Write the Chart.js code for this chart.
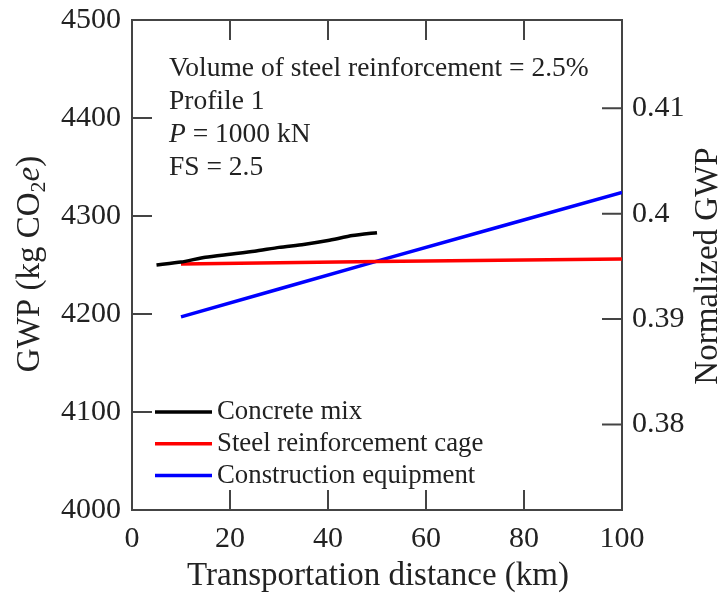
<!DOCTYPE html>
<html>
<head>
<meta charset="utf-8">
<script src="https://cdn.jsdelivr.net/npm/chart.js@4.4.1/dist/chart.umd.min.js"></script>
<style>
  html, body { margin: 0; padding: 0; background: #ffffff; }
  #wrap { width: 723px; height: 597px; position: relative; }
</style>
</head>
<body>
<div id="wrap"><canvas id="c"></canvas></div>
<script>
// Transportation distance (km) and GWP (kg CO2e) for each contribution
const concreteDistance = [5, 10, 15, 20, 25, 30, 35, 40, 45, 50];
const concreteGwp      = [4250, 4253, 4258, 4261, 4264, 4268, 4271, 4275, 4280, 4283];
const steelDistance    = [10, 50, 100];
const steelGwp         = [4251, 4253.5, 4256];
const equipmentDistance = [10, 50, 100];
const equipmentGwp      = [4197, 4254, 4324];

const seriesNames  = ['Concrete mix', 'Steel reinforcement cage', 'Construction equipment'];
const seriesColors = ['#000000', '#ff0000', '#0000ff'];

const distanceTicks   = [0, 20, 40, 60, 80, 100];
const gwpTicks        = [4000, 4100, 4200, 4300, 4400, 4500];
const normalizedTicks = [0.38, 0.39, 0.40, 0.41];
const normalizationBase = 10756; // GWP (kg CO2e) corresponding to a normalized GWP of 1

const noteLines = [
  [{ t: 'Volume of steel reinforcement = 2.5%' }],
  [{ t: 'Profile 1' }],
  [{ t: 'P', italic: true }, { t: ' = 1000 kN' }],
  [{ t: 'FS = 2.5' }]
];

const SERIF = "'Liberation Serif', 'Times New Roman', serif";
const FRAME = '#444444';
const INK = '#222222';

function pts(xs, ys) { return xs.map((x, i) => ({ x: x, y: ys[i] })); }

function fontStr(size, italic) { return (italic ? 'italic ' : '') + size + 'px ' + SERIF; }

// fixed box size for a scale, without extra label overhang padding
function fixBox(w, h) {
  return s => {
    if (w !== null) s.width = w;
    if (h !== null) s.height = h;
    s.paddingTop = 0; s.paddingBottom = 0; s.paddingLeft = 0; s.paddingRight = 0;
  };
}

// draw a run of text segments (plain / italic / subscript) centred on (0,0)
function drawRuns(ctx, runs, size) {
  const widths = runs.map(r => {
    ctx.font = fontStr(r.sub ? Math.round(size * 0.68) : size, r.italic);
    return ctx.measureText(r.t).width;
  });
  const total = widths.reduce((a, b) => a + b, 0);
  let x = -total / 2;
  runs.forEach((r, i) => {
    ctx.font = fontStr(r.sub ? Math.round(size * 0.68) : size, r.italic);
    ctx.fillText(r.t, x, r.sub ? size * 0.28 : 0);
    x += widths[i];
  });
}

const decorations = {
  id: 'decorations',
  afterDatasetsDraw(chart) {
    const ctx = chart.ctx;
    const sx = chart.scales.x, sy = chart.scales.y, sy2 = chart.scales.y2;
    const area = chart.chartArea;
    const tick = 20;

    ctx.save();
    // inward tick marks on all four sides
    ctx.strokeStyle = FRAME;
    ctx.lineWidth = 2;
    ctx.beginPath();
    distanceTicks.slice(1, -1).forEach(v => {
      const px = sx.getPixelForValue(v);
      ctx.moveTo(px, area.bottom); ctx.lineTo(px, area.bottom - tick);
      ctx.moveTo(px, area.top); ctx.lineTo(px, area.top + tick);
    });
    gwpTicks.slice(1, -1).forEach(v => {
      const py = sy.getPixelForValue(v);
      ctx.moveTo(area.left, py); ctx.lineTo(area.left + tick, py);
    });
    normalizedTicks.forEach(v => {
      const py = sy2.getPixelForValue(v);
      ctx.moveTo(area.right, py); ctx.lineTo(area.right - tick, py);
    });
    ctx.stroke();

    ctx.fillStyle = INK;
    ctx.textBaseline = 'middle';
    ctx.textAlign = 'left';

    // annotation block
    noteLines.forEach((line, i) => {
      let x = 169;
      const y = 69 + i * 33;
      line.forEach(r => {
        ctx.font = fontStr(27.5, r.italic);
        ctx.fillText(r.t, x, y);
        x += ctx.measureText(r.t).width;
      });
    });

    // legend
    chart.data.datasets.forEach((ds, i) => {
      const y = 412 + i * 31.8;
      ctx.strokeStyle = ds.borderColor;
      ctx.lineWidth = 3.5;
      ctx.beginPath();
      ctx.moveTo(155, y); ctx.lineTo(212, y);
      ctx.stroke();
      ctx.font = fontStr(26.8, false);
      ctx.fillText(ds.label, 217, y);
    });

    // axis titles
    ctx.save();
    ctx.translate(378, 576);
    drawRuns(ctx, [{ t: 'Transportation distance (km)' }], 33);
    ctx.restore();

    ctx.save();
    ctx.translate(30, 264);
    ctx.rotate(-Math.PI / 2);
    drawRuns(ctx, [{ t: 'GWP (kg CO' }, { t: '2', sub: true }, { t: 'e', italic: true }, { t: ')' }], 33);
    ctx.restore();

    ctx.save();
    ctx.translate(708, 266);
    ctx.rotate(-Math.PI / 2);
    drawRuns(ctx, [{ t: 'Normalized GWP' }], 33);
    ctx.restore();

    ctx.restore();
  }
};

const tickFont = { family: SERIF, size: 30 };

new Chart(document.getElementById('c'), {
  type: 'line',
  data: {
    datasets: [
      { label: seriesNames[0], data: pts(concreteDistance, concreteGwp), borderColor: seriesColors[0] },
      { label: seriesNames[1], data: pts(steelDistance, steelGwp), borderColor: seriesColors[1] },
      { label: seriesNames[2], data: pts(equipmentDistance, equipmentGwp), borderColor: seriesColors[2] }
    ].map(d => Object.assign(d, { borderWidth: 3.5, pointRadius: 0, tension: 0.2, fill: false, xAxisID: 'x', yAxisID: 'y' }))
  },
  options: {
    responsive: true,
    maintainAspectRatio: false,
    animation: false,
    events: [],
    layout: { padding: 0 },
    plugins: { legend: { display: false }, tooltip: { enabled: false } },
    scales: {
      x: {
        type: 'linear', position: 'bottom', min: 0, max: 100,
        afterBuildTicks: s => { s.ticks = distanceTicks.map(v => ({ value: v })); },
        afterFit: fixBox(null, 87),
        grid: { display: true, drawOnChartArea: false, drawTicks: false },
        border: { display: true, color: FRAME, width: 2 },
        ticks: { font: tickFont, color: INK, padding: 11, maxRotation: 0, autoSkip: false,
                 callback: v => String(v) }
      },
      x2: {
        type: 'linear', position: 'top', min: 0, max: 100,
        afterFit: fixBox(null, 20),
        grid: { display: true, drawOnChartArea: false, drawTicks: false },
        border: { display: true, color: FRAME, width: 2 },
        ticks: { display: false }
      },
      y: {
        type: 'linear', position: 'left', min: 4000, max: 4500,
        afterBuildTicks: s => { s.ticks = gwpTicks.map(v => ({ value: v })); },
        afterFit: fixBox(132, null),
        grid: { display: true, drawOnChartArea: false, drawTicks: false },
        border: { display: true, color: FRAME, width: 2 },
        ticks: { font: tickFont, color: INK, padding: 11, autoSkip: false,
                 callback: v => String(v) }
      },
      y2: {
        type: 'linear', position: 'right',
        min: 4000 / normalizationBase, max: 4500 / normalizationBase,
        afterBuildTicks: s => { s.ticks = normalizedTicks.map(v => ({ value: v })); },
        afterFit: fixBox(101, null),
        grid: { display: true, drawOnChartArea: false, drawTicks: false },
        border: { display: true, color: FRAME, width: 2 },
        ticks: { font: tickFont, color: INK, padding: 10, autoSkip: false,
                 callback: v => String(Number(v.toFixed(2))) }
      }
    }
  },
  plugins: [decorations]
});
</script>
</body>
</html>
